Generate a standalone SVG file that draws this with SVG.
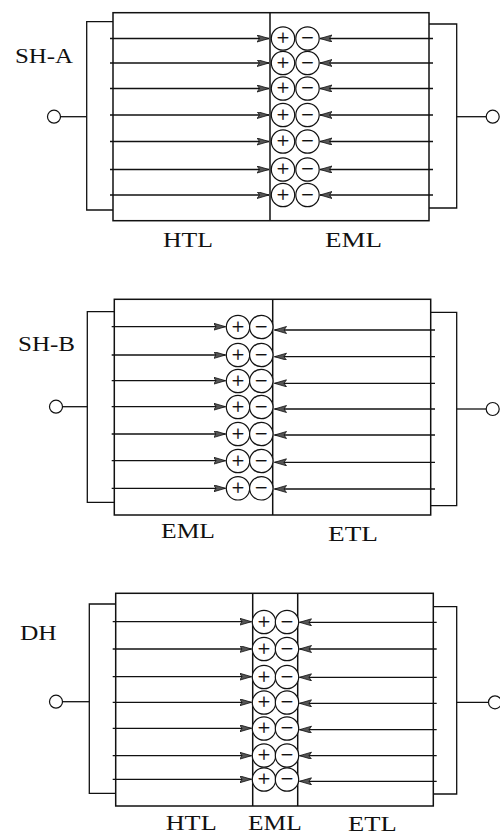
<svg xmlns="http://www.w3.org/2000/svg" width="500" height="836" viewBox="0 0 500 836">
<style>
.box{fill:none;stroke:#111;stroke-width:1.5}
.wire{fill:none;stroke:#111;stroke-width:1.3}
.term{fill:#fff;stroke:#111;stroke-width:1.2}
.arr{stroke:#111;stroke-width:1.3;marker-end:url(#ah)}
.q{fill:#fff;stroke:#111;stroke-width:1.2}
.sym{font-family:"Liberation Serif","DejaVu Serif",serif;font-size:22px;fill:#111;stroke:#111;stroke-width:0.3;text-anchor:middle}
.lbl{font-family:"Liberation Serif","DejaVu Serif",serif;font-size:20px;fill:#111}
</style>
<defs>
<marker id="ah" markerUnits="userSpaceOnUse" markerWidth="14" markerHeight="9" refX="12" refY="3.5" orient="auto">
<path d="M0,0 L12,3.5 L0,7 L2.5,3.5 z" fill="#555" stroke="#111" stroke-width="0.8"/>
</marker>
<g id="pm">
<circle class="q" cx="0" cy="0" r="11.7"/>
<text class="sym" x="0" y="6.5">+</text>
</g>
<g id="mm">
<circle class="q" cx="0" cy="0" r="11.7"/>
<text class="sym" x="0" y="6.5">−</text>
</g>
</defs>

<!-- Panel SH-A -->
<g id="panel-sha">
<rect class="box" x="113" y="12.7" width="316" height="208"/>
<line class="box" x1="270" y1="12.7" x2="270" y2="220.7"/>
<path class="wire" d="M113,21.7 H86.7 V210 H113"/>
<path class="wire" d="M86.7,116.7 H60.5"/>
<circle class="term" cx="54" cy="116.7" r="6.5"/>
<path class="wire" d="M429,24 H456.7 V208 H429"/>
<path class="wire" d="M456.7,116.7 H486.2"/>
<circle class="term" cx="492.7" cy="116.7" r="6.5"/>
<g id="charges-a">
<use href="#pm" x="283" y="38.5"/><use href="#mm" x="307.5" y="38.5"/>
<use href="#pm" x="283" y="63"/><use href="#mm" x="307.5" y="63"/>
<use href="#pm" x="283" y="88.5"/><use href="#mm" x="307.5" y="88.5"/>
<use href="#pm" x="283" y="115"/><use href="#mm" x="307.5" y="115"/>
<use href="#pm" x="283" y="141.5"/><use href="#mm" x="307.5" y="141.5"/>
<use href="#pm" x="283" y="169.5"/><use href="#mm" x="307.5" y="169.5"/>
<use href="#pm" x="283" y="195"/><use href="#mm" x="307.5" y="195"/>
</g>
<text class="lbl" x="15" y="63" textLength="58" lengthAdjust="spacingAndGlyphs">SH-A</text>
<text class="lbl" x="163" y="247" textLength="50" lengthAdjust="spacingAndGlyphs">HTL</text>
<text class="lbl" x="325" y="247" textLength="57" lengthAdjust="spacingAndGlyphs">EML</text>
</g>

<!-- Panel SH-B -->
<g id="panel-shb">
<rect class="box" x="114.3" y="299.3" width="316.4" height="215.7"/>
<line class="box" x1="272.7" y1="299.3" x2="272.7" y2="515"/>
<path class="wire" d="M114.3,311.7 H87.3 V502.3 H114.3"/>
<path class="wire" d="M87.3,406.7 H62.5"/>
<circle class="term" cx="56" cy="406.7" r="6.5"/>
<path class="wire" d="M430.7,312.3 H456.7 V505.7 H430.7"/>
<path class="wire" d="M456.7,409 H486.2"/>
<circle class="term" cx="492.7" cy="409" r="6.5"/>
<g id="charges-b">
<use href="#pm" x="238" y="327"/><use href="#mm" x="261.3" y="327"/>
<use href="#pm" x="238" y="355"/><use href="#mm" x="261.3" y="355"/>
<use href="#pm" x="238" y="381"/><use href="#mm" x="261.3" y="381"/>
<use href="#pm" x="238" y="407"/><use href="#mm" x="261.3" y="407"/>
<use href="#pm" x="238" y="434"/><use href="#mm" x="261.3" y="434"/>
<use href="#pm" x="238" y="461"/><use href="#mm" x="261.3" y="461"/>
<use href="#pm" x="238" y="488.3"/><use href="#mm" x="261.3" y="488.3"/>
</g>
<text class="lbl" x="18" y="350.7" textLength="57" lengthAdjust="spacingAndGlyphs">SH-B</text>
<text class="lbl" x="161" y="538" textLength="54" lengthAdjust="spacingAndGlyphs">EML</text>
<text class="lbl" x="328" y="541" textLength="50" lengthAdjust="spacingAndGlyphs">ETL</text>
</g>

<!-- Panel DH -->
<g id="panel-dh">
<rect class="box" x="115.7" y="593.3" width="317.6" height="212.7"/>
<line class="box" x1="252.7" y1="593.3" x2="252.7" y2="806"/>
<line class="box" x1="297.7" y1="593.3" x2="297.7" y2="806"/>
<path class="wire" d="M115.7,604 H89.3 V793.3 H115.7"/>
<path class="wire" d="M89.3,701.7 H62.5"/>
<circle class="term" cx="56" cy="701.7" r="6.5"/>
<path class="wire" d="M433.3,606.7 H456.7 V794 H433.3"/>
<path class="wire" d="M456.7,702.3 H488.5"/>
<circle class="term" cx="495" cy="702.3" r="6.5"/>
<g id="charges-c">
<use href="#pm" x="264" y="622"/><use href="#mm" x="287" y="622"/>
<use href="#pm" x="264" y="649"/><use href="#mm" x="287" y="649"/>
<use href="#pm" x="264" y="677"/><use href="#mm" x="287" y="677"/>
<use href="#pm" x="264" y="702.5"/><use href="#mm" x="287" y="702.5"/>
<use href="#pm" x="264" y="728.5"/><use href="#mm" x="287" y="728.5"/>
<use href="#pm" x="264" y="755.5"/><use href="#mm" x="287" y="755.5"/>
<use href="#pm" x="264" y="779.5"/><use href="#mm" x="287" y="779.5"/>
</g>
<text class="lbl" x="20" y="640" textLength="36.7" lengthAdjust="spacingAndGlyphs">DH</text>
<text class="lbl" x="165.7" y="830" textLength="51" lengthAdjust="spacingAndGlyphs">HTL</text>
<text class="lbl" x="248" y="830" textLength="53.7" lengthAdjust="spacingAndGlyphs">EML</text>
<text class="lbl" x="348" y="831" textLength="48.7" lengthAdjust="spacingAndGlyphs">ETL</text>
</g>

<!-- Connectors: carrier injection arrows -->
<g id="connectors">
<line class="arr" x1="110" y1="38.5" x2="269" y2="38.5"/>
<line class="arr" x1="110" y1="63" x2="269" y2="63"/>
<line class="arr" x1="110" y1="88.5" x2="269" y2="88.5"/>
<line class="arr" x1="110" y1="115" x2="269" y2="115"/>
<line class="arr" x1="110" y1="141.5" x2="269" y2="141.5"/>
<line class="arr" x1="110" y1="169.5" x2="269" y2="169.5"/>
<line class="arr" x1="110" y1="195" x2="269" y2="195"/>
<line class="arr" x1="433" y1="38.5" x2="320" y2="38.5"/>
<line class="arr" x1="433" y1="63" x2="320" y2="63"/>
<line class="arr" x1="433" y1="88.5" x2="320" y2="88.5"/>
<line class="arr" x1="433" y1="115" x2="320" y2="115"/>
<line class="arr" x1="433" y1="141.5" x2="320" y2="141.5"/>
<line class="arr" x1="433" y1="169.5" x2="320" y2="169.5"/>
<line class="arr" x1="433" y1="195" x2="320" y2="195"/>

<line class="arr" x1="111.7" y1="326.7" x2="225.5" y2="326.7"/>
<line class="arr" x1="111.7" y1="355" x2="225.5" y2="355"/>
<line class="arr" x1="111.7" y1="380.7" x2="225.5" y2="380.7"/>
<line class="arr" x1="111.7" y1="406.7" x2="225.5" y2="406.7"/>
<line class="arr" x1="111.7" y1="434" x2="225.5" y2="434"/>
<line class="arr" x1="111.7" y1="460.7" x2="225.5" y2="460.7"/>
<line class="arr" x1="111.7" y1="488.3" x2="225.5" y2="488.3"/>
<line class="arr" x1="435" y1="330" x2="274.5" y2="330"/>
<line class="arr" x1="435" y1="356.7" x2="274.5" y2="356.7"/>
<line class="arr" x1="435" y1="383.3" x2="274.5" y2="383.3"/>
<line class="arr" x1="435" y1="409" x2="274.5" y2="409"/>
<line class="arr" x1="435" y1="435" x2="274.5" y2="435"/>
<line class="arr" x1="435" y1="462.3" x2="274.5" y2="462.3"/>
<line class="arr" x1="435" y1="489" x2="274.5" y2="489"/>

<line class="arr" x1="112.7" y1="621.7" x2="251.5" y2="621.7"/>
<line class="arr" x1="112.7" y1="649" x2="251.5" y2="649"/>
<line class="arr" x1="112.7" y1="676.7" x2="251.5" y2="676.7"/>
<line class="arr" x1="112.7" y1="702.3" x2="251.5" y2="702.3"/>
<line class="arr" x1="112.7" y1="728.3" x2="251.5" y2="728.3"/>
<line class="arr" x1="112.7" y1="755.7" x2="251.5" y2="755.7"/>
<line class="arr" x1="112.7" y1="779.3" x2="251.5" y2="779.3"/>
<line class="arr" x1="436.7" y1="622.3" x2="299.5" y2="622.3"/>
<line class="arr" x1="436.7" y1="649" x2="299.5" y2="649"/>
<line class="arr" x1="436.7" y1="677.3" x2="299.5" y2="677.3"/>
<line class="arr" x1="436.7" y1="703.3" x2="299.5" y2="703.3"/>
<line class="arr" x1="436.7" y1="729.7" x2="299.5" y2="729.7"/>
<line class="arr" x1="436.7" y1="755.7" x2="299.5" y2="755.7"/>
<line class="arr" x1="436.7" y1="781.3" x2="299.5" y2="781.3"/>
</g>
</svg>
